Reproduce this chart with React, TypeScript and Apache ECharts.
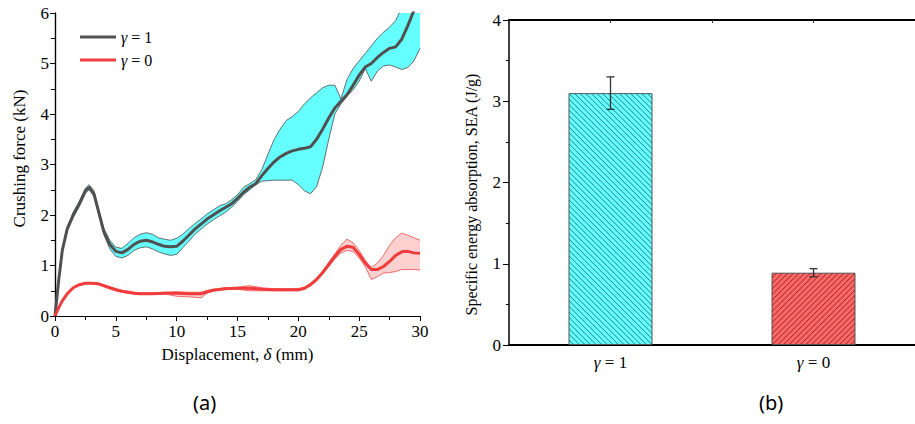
import React, { useEffect, useRef } from "react";
import * as echarts from "echarts";

// ---- Panel (a): crushing force vs displacement ----
const X_G1 = [0, 0.3, 0.6, 1, 1.5, 2, 2.5, 2.8, 3.2, 3.6, 4, 4.5, 5, 5.5, 6, 6.5, 7, 7.5, 8, 8.5, 9, 9.5, 10, 10.5, 11, 11.5, 12, 12.5, 13, 13.5, 14, 14.5, 15, 15.5, 16, 16.5, 17, 17.5, 18, 18.5, 19, 19.5, 20, 20.5, 21, 21.5, 22, 22.5, 23, 23.5, 24, 24.5, 25, 25.5, 26, 26.5, 27, 27.5, 28, 28.5, 29, 29.5, 30];
const MEAN_G1 = [0, 0.7, 1.3, 1.72, 2.0, 2.22, 2.48, 2.55, 2.42, 2.05, 1.68, 1.42, 1.28, 1.25, 1.32, 1.42, 1.48, 1.5, 1.47, 1.42, 1.38, 1.37, 1.38, 1.48, 1.6, 1.72, 1.82, 1.92, 2.0, 2.08, 2.15, 2.22, 2.33, 2.45, 2.55, 2.62, 2.78, 2.92, 3.05, 3.15, 3.22, 3.27, 3.3, 3.32, 3.35, 3.5, 3.7, 3.92, 4.12, 4.25, 4.38, 4.57, 4.77, 4.93, 5.0, 5.12, 5.22, 5.3, 5.33, 5.48, 5.75, 6.05, 6.35];
const LOW_G1 = [0, 0.68, 1.27, 1.68, 1.95, 2.17, 2.43, 2.5, 2.37, 2.0, 1.62, 1.33, 1.18, 1.15, 1.2, 1.3, 1.35, 1.37, 1.33, 1.27, 1.23, 1.2, 1.22, 1.35, 1.48, 1.62, 1.72, 1.82, 1.9, 1.98, 2.05, 2.15, 2.27, 2.4, 2.5, 2.6, 2.67, 2.68, 2.69, 2.69, 2.69, 2.69, 2.6, 2.48, 2.42, 2.56, 2.95, 3.5, 4.0, 4.2, 4.35, 4.48, 4.65, 4.9, 4.65, 4.85, 4.95, 4.97, 4.93, 4.88, 4.92, 5.05, 5.3];
const UP_G1 = [0, 0.72, 1.33, 1.76, 2.06, 2.27, 2.53, 2.6, 2.48, 2.1, 1.74, 1.5, 1.36, 1.34, 1.44, 1.55, 1.62, 1.65, 1.62, 1.55, 1.52, 1.5, 1.54, 1.62, 1.73, 1.83, 1.92, 2.02, 2.1, 2.18, 2.22, 2.3, 2.4, 2.55, 2.62, 2.7, 2.9, 3.2, 3.49, 3.7, 3.87, 3.95, 4.05, 4.2, 4.32, 4.42, 4.52, 4.57, 4.57, 4.3, 4.68, 4.9, 5.05, 5.2, 5.35, 5.5, 5.62, 5.72, 5.85, 6.1, 6.4, 6.7, 7.0];

const X_G0 = [0, 0.3, 0.6, 1, 1.5, 2, 2.5, 3, 3.5, 4, 4.5, 5, 5.5, 6, 6.5, 7, 8, 9, 10, 11, 12, 12.5, 13, 14, 15, 16, 17, 18, 19, 20, 20.5, 21, 21.5, 22, 22.5, 23, 23.5, 24, 24.5, 25, 25.5, 26, 26.5, 27, 27.5, 28, 28.5, 29, 29.5, 30];
const MEAN_G0 = [0, 0.16, 0.3, 0.44, 0.56, 0.62, 0.65, 0.65, 0.64, 0.6, 0.56, 0.52, 0.49, 0.47, 0.45, 0.44, 0.44, 0.45, 0.45, 0.44, 0.44, 0.48, 0.51, 0.54, 0.55, 0.55, 0.53, 0.52, 0.52, 0.52, 0.55, 0.62, 0.72, 0.86, 1.02, 1.18, 1.32, 1.38, 1.36, 1.22, 1.05, 0.92, 0.92, 0.98, 1.08, 1.2, 1.27, 1.28, 1.25, 1.24];
const LOW_G0 = [0, 0.15, 0.29, 0.43, 0.55, 0.61, 0.64, 0.64, 0.63, 0.58, 0.54, 0.5, 0.47, 0.45, 0.44, 0.43, 0.43, 0.44, 0.39, 0.38, 0.36, 0.45, 0.5, 0.53, 0.53, 0.5, 0.5, 0.5, 0.5, 0.5, 0.53, 0.6, 0.7, 0.83, 0.98, 1.13, 1.25, 1.3, 1.28, 1.15, 0.98, 0.72, 0.78, 0.85, 0.86, 0.88, 0.92, 0.92, 0.92, 0.91];
const UP_G0 = [0, 0.17, 0.31, 0.45, 0.57, 0.63, 0.66, 0.66, 0.66, 0.62, 0.58, 0.54, 0.51, 0.49, 0.47, 0.46, 0.46, 0.47, 0.48, 0.47, 0.47, 0.5, 0.53, 0.56, 0.57, 0.6, 0.56, 0.54, 0.54, 0.54, 0.57, 0.65, 0.75, 0.89, 1.06, 1.23, 1.4, 1.52, 1.45, 1.3, 1.1, 0.96, 1.05, 1.2, 1.4, 1.55, 1.64, 1.6, 1.55, 1.5];

// ---- Panel (b): SEA bars ----
const CATEGORIES = ["γ = 1", "γ = 0"];
const SEA = [3.1, 0.89];
const SEA_ERR = [0.2, 0.05];

const SERIF = "Liberation Serif";
const BAR_W = 84;

const pairs = (xs: number[], ys: number[]) => xs.map((x, i) => [x, ys[i]]);

export default function App() {
  const ref = useRef<HTMLDivElement>(null);
  useEffect(() => {
    if (!ref.current) return;
    const chart = echarts.init(ref.current, null, { renderer: "svg" });
    const black = "#000";
    const gammaRich = {
      i: { fontStyle: "italic", fontFamily: SERIF, fontSize: 17, color: black },
      n: { fontFamily: SERIF, fontSize: 17, color: black },
    };
    const gammaFmt = (s: string) => "{i|γ}{n|" + s.replace("γ", "") + "}";

    const bandSeries = (
      xs: number[],
      low: number[],
      up: number[],
      fill: string,
      edge: string
    ) => [
      {
        type: "custom",
        xAxisIndex: 0,
        yAxisIndex: 0,
        silent: true,
        data: xs.map((x, i) => [x, low[i], up[i]]),
        encode: { x: 0, y: [1, 2] },
        renderItem: (params: any, api: any) => {
          if (params.dataIndex !== 0) return null;
          const pts: number[][] = [];
          for (let i = 0; i < xs.length; i++) pts.push(api.coord([xs[i], up[i]]));
          for (let i = xs.length - 1; i >= 0; i--) pts.push(api.coord([xs[i], low[i]]));
          const cs = params.coordSys;
          return {
            type: "polygon",
            shape: { points: pts },
            style: { fill, stroke: "none" },
            clipPath: { type: "rect", shape: { x: cs.x, y: cs.y, width: cs.width, height: cs.height } },
          };
        },
        z: 1,
      },
      {
        type: "line",
        xAxisIndex: 0,
        yAxisIndex: 0,
        symbol: "none",
        silent: true,
        data: pairs(xs, low),
        lineStyle: { color: edge, width: 0.8 },
        z: 2,
      },
      {
        type: "line",
        xAxisIndex: 0,
        yAxisIndex: 0,
        symbol: "none",
        silent: true,
        data: pairs(xs, up),
        lineStyle: { color: edge, width: 0.8 },
        z: 2,
      },
    ];

    const option: any = {
      animation: false,
      legend: {
        data: ["γ = 1", "γ = 0"],
        orient: "vertical",
        left: 80,
        top: 29,
        icon: "rect",
        itemWidth: 36,
        itemHeight: 3,
        itemGap: 7,
        padding: 0,
        formatter: (name: string) => gammaFmt(name),
        textStyle: {
          fontFamily: SERIF,
          fontSize: 16,
          lineHeight: 16,
          rich: {
            i: { ...gammaRich.i, fontSize: 16, lineHeight: 16 },
            n: { ...gammaRich.n, fontSize: 16, lineHeight: 16 },
          },
        },
      },
      grid: [
        { left: 55, top: 13, width: 365, height: 303 },
        { left: 509, top: 20, width: 415, height: 325 },
      ],
      xAxis: [
        {
          type: "value",
          gridIndex: 0,
          position: "bottom",
          min: 0,
          max: 30,
          interval: 5,
          axisLine: { lineStyle: { color: black, width: 1.2 } },
          axisTick: { inside: false, length: 5, lineStyle: { color: black } },
          minorTick: { show: true, splitNumber: 2, length: 3, lineStyle: { color: black } },
          axisLabel: { fontFamily: SERIF, fontSize: 17, color: black, margin: 7 },
          splitLine: { show: false },
          name: "{n|Displacement, }{i|δ}{n| (mm)}",
          nameLocation: "middle",
          nameGap: 30,
          nameTextStyle: { fontFamily: SERIF, rich: gammaRich },
        },
        {
          type: "value",
          gridIndex: 0,
          position: "top",
          min: 0,
          max: 30,
          interval: 2.5,
          axisLine: { lineStyle: { color: black, width: 1.2 } },
          axisTick: { inside: true, length: 4, lineStyle: { color: black } },
          axisLabel: { show: false },
          splitLine: { show: false },
        },
        {
          type: "category",
          gridIndex: 1,
          position: "bottom",
          data: CATEGORIES,
          axisLine: { lineStyle: { color: black, width: 2 } },
          axisTick: { show: false },
          axisLabel: { fontFamily: SERIF, formatter: (v: string) => gammaFmt(v), rich: gammaRich, margin: 9 },
        },
        {
          type: "value",
          gridIndex: 1,
          position: "top",
          min: 0,
          max: 2,
          interval: 0.5,
          axisLine: { lineStyle: { color: black, width: 2 } },
          axisTick: { inside: true, length: 3, lineStyle: { color: "#333" } },
          axisLabel: { show: false },
          splitLine: { show: false },
        },
      ],
      yAxis: [
        {
          type: "value",
          gridIndex: 0,
          position: "left",
          min: 0,
          max: 6,
          interval: 1,
          axisLine: { show: true, lineStyle: { color: black, width: 1.2 } },
          axisTick: { show: true, inside: false, length: 5, lineStyle: { color: black } },
          minorTick: { show: true, splitNumber: 2, length: 3, lineStyle: { color: black } },
          axisLabel: { fontFamily: SERIF, fontSize: 17, color: black, margin: 6 },
          splitLine: { show: false },
          name: "Crushing force (kN)",
          nameLocation: "middle",
          nameGap: 27,
          nameRotate: 90,
          nameTextStyle: { fontFamily: SERIF, fontSize: 17, color: black, padding: [0, 0, 0, 12] },
        },
        {
          type: "value",
          gridIndex: 0,
          position: "right",
          min: 0,
          max: 6,
          interval: 0.5,
          axisLine: { show: true, lineStyle: { color: black, width: 1.2 } },
          axisTick: { show: true, inside: true, length: 4, lineStyle: { color: black } },
          axisLabel: { show: false },
          splitLine: { show: false },
        },
        {
          type: "value",
          gridIndex: 1,
          position: "left",
          min: 0,
          max: 4,
          interval: 1,
          axisLine: { show: true, lineStyle: { color: black, width: 1.5 } },
          axisTick: { show: true, inside: false, length: 6, lineStyle: { color: black } },
          minorTick: { show: true, splitNumber: 2, length: 3, lineStyle: { color: black } },
          axisLabel: { fontFamily: SERIF, fontSize: 17, color: black, margin: 8 },
          splitLine: { show: false },
          name: "Specific energy absorption, SEA (J/g)",
          nameLocation: "middle",
          nameGap: 30,
          nameRotate: 90,
          nameTextStyle: { fontFamily: SERIF, fontSize: 16, color: black, padding: [0, 24, 0, 0] },
        },
      ],
      series: [
        ...bandSeries(X_G1, LOW_G1, UP_G1, "#66ffff", "#4a4a4a"),
        ...bandSeries(X_G0, LOW_G0, UP_G0, "#ffd0d0", "#f04848"),
        {
          name: "γ = 1",
          type: "line",
          xAxisIndex: 0,
          yAxisIndex: 0,
          symbol: "none",
          data: pairs(X_G1, MEAN_G1),
          lineStyle: { color: "#505050", width: 3 },
          itemStyle: { color: "#505050" },
          z: 3,
        },
        {
          name: "γ = 0",
          type: "line",
          xAxisIndex: 0,
          yAxisIndex: 0,
          symbol: "none",
          data: pairs(X_G0, MEAN_G0),
          lineStyle: { color: "#f03c3c", width: 3 },
          itemStyle: { color: "#f03c3c" },
          z: 3,
        },
        {
          type: "bar",
          xAxisIndex: 2,
          yAxisIndex: 2,
          barWidth: BAR_W,
          data: [
            { value: SEA[0], itemStyle: { color: "#66ffff", borderColor: "#555", borderWidth: 1 } },
            { value: SEA[1], itemStyle: { color: "#ff6666", borderColor: "#555", borderWidth: 1 } },
          ],
          z: 2,
        },
        {
          // hatch overlay on bars
          type: "custom",
          xAxisIndex: 2,
          yAxisIndex: 2,
          silent: true,
          data: SEA.map((v, i) => [i, v]),
          renderItem: (params: any, api: any) => {
            const i = api.value(0);
            const v = api.value(1);
            const topC = api.coord([i, v]);
            const botC = api.coord([i, 0]);
            const x0 = topC[0] - BAR_W / 2;
            const y0 = topC[1];
            const H = botC[1] - topC[1];
            const W = BAR_W;
            const step = 5.6;
            const color = i === 0 ? "rgba(0,70,70,0.85)" : "rgba(90,10,10,0.85)";
            const children: any[] = [];
            for (let t = -H; t <= W; t += step) {
              if (i === 0) {
                children.push({
                  type: "line",
                  shape: { x1: x0 + t, y1: y0, x2: x0 + t + H, y2: y0 + H },
                  style: { stroke: color, lineWidth: 0.8 },
                });
              } else {
                children.push({
                  type: "line",
                  shape: { x1: x0 + t, y1: y0 + H, x2: x0 + t + H, y2: y0 },
                  style: { stroke: color, lineWidth: 0.8 },
                });
              }
            }
            return {
              type: "group",
              clipPath: { type: "rect", shape: { x: x0 + 0.5, y: y0 + 0.5, width: W - 1, height: H - 1 } },
              children,
            };
          },
          z: 3,
        },
        {
          type: "custom",
          xAxisIndex: 2,
          yAxisIndex: 2,
          data: SEA.map((v, i) => [i, v, SEA_ERR[i]]),
          renderItem: (params: any, api: any) => {
            const x = api.value(0);
            const v = api.value(1);
            const e = api.value(2);
            const top = api.coord([x, v + e]);
            const bot = api.coord([x, v - e]);
            const hw = 4;
            const st = { stroke: "#333", lineWidth: 1.3 };
            return {
              type: "group",
              children: [
                { type: "line", shape: { x1: top[0], y1: top[1], x2: bot[0], y2: bot[1] }, style: st },
                { type: "line", shape: { x1: top[0] - hw, y1: top[1], x2: top[0] + hw, y2: top[1] }, style: st },
                { type: "line", shape: { x1: bot[0] - hw, y1: bot[1], x2: bot[0] + hw, y2: bot[1] }, style: st },
              ],
            };
          },
          z: 5,
        },
      ],
      graphic: [
        {
          type: "text",
          left: 193,
          top: 392,
          style: { text: "(a)", fontFamily: "Noto Sans", fontSize: 20, fill: "#000" },
        },
        {
          type: "text",
          left: 759,
          top: 392,
          style: { text: "(b)", fontFamily: "Noto Sans", fontSize: 20, fill: "#000" },
        },
      ],
    };
    chart.setOption(option);
    return () => chart.dispose();
  }, []);
  return (
    <div
      ref={ref}
      style={{ position: "fixed", left: 0, top: 0, width: 915, height: 424, background: "#fff" }}
    />
  );
}
